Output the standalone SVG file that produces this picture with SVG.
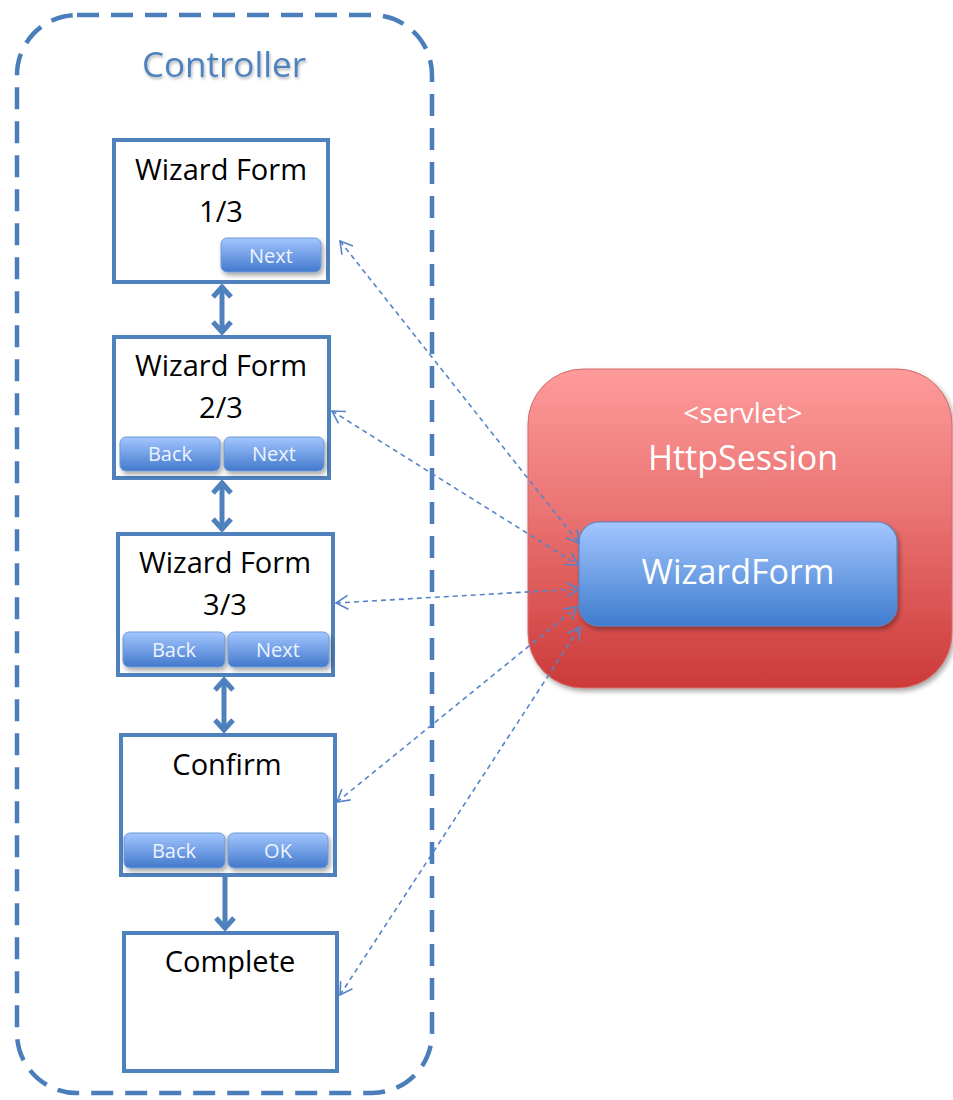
<svg xmlns="http://www.w3.org/2000/svg" width="953" height="1100" viewBox="0 0 953 1100">
<defs>
<linearGradient id="gSession" x1="0" y1="0" x2="0" y2="1">
<stop offset="0" stop-color="#fe9b9b"/>
<stop offset="0.45" stop-color="#ea7373"/>
<stop offset="1" stop-color="#cc3a38"/>
</linearGradient>
<linearGradient id="gForm" x1="0" y1="0" x2="0" y2="1">
<stop offset="0" stop-color="#a3c6ff"/>
<stop offset="1" stop-color="#3f7cce"/>
</linearGradient>
<linearGradient id="gBtn" x1="0" y1="0" x2="0" y2="1">
<stop offset="0" stop-color="#a3c6ff"/>
<stop offset="1" stop-color="#4279cc"/>
</linearGradient>
<filter id="shadow" x="-10%" y="-10%" width="130%" height="130%">
<feGaussianBlur in="SourceAlpha" stdDeviation="2.5"/>
<feOffset dx="2" dy="3"/>
<feComponentTransfer><feFuncA type="linear" slope="0.35"/></feComponentTransfer>
<feMerge><feMergeNode/><feMergeNode in="SourceGraphic"/></feMerge>
</filter>
<filter id="tshadow" x="-10%" y="-20%" width="130%" height="160%">
<feGaussianBlur in="SourceAlpha" stdDeviation="1.5"/>
<feOffset dx="1" dy="2"/>
<feComponentTransfer><feFuncA type="linear" slope="0.3"/></feComponentTransfer>
<feMerge><feMergeNode/><feMergeNode in="SourceGraphic"/></feMerge>
</filter>
<marker id="thin" markerUnits="userSpaceOnUse" markerWidth="16" markerHeight="16" viewBox="-14 -8 16 16" refX="0" refY="0" orient="auto-start-reverse">
<path d="M-12,-7 L0,0 L-12,7" fill="none" stroke="#5585c8" stroke-width="1.6"/>
</marker>
<marker id="thick" markerUnits="userSpaceOnUse" markerWidth="24" markerHeight="24" viewBox="-14 -12 16 24" refX="0" refY="0" orient="auto-start-reverse">
<path d="M-11,-9 L-1,0 L-11,9" fill="none" stroke="#4f81bd" stroke-width="5" stroke-linejoin="miter"/>
</marker>
</defs>
<style>
.box{fill:#ffffff;stroke:#4f81bd;stroke-width:4}
.t{font-family:"Open Sans","Liberation Sans",sans-serif;font-size:29px;fill:#000000;text-anchor:middle}
.btn{fill:url(#gBtn);stroke:#6f9ad6;stroke-width:1}
.bt{font-family:"Open Sans","Liberation Sans",sans-serif;font-size:20px;fill:#eef4ff;text-anchor:middle}
.w{font-family:"Open Sans","Liberation Sans",sans-serif;fill:#ffffff;text-anchor:middle}
.dash{fill:none;stroke:#5585c8;stroke-width:1.6;stroke-dasharray:5 4;marker-start:url(#thin);marker-end:url(#thin)}
.solid{fill:none;stroke:#4f81bd;stroke-width:5}
</style>

<g id="controller">
<rect x="17" y="15" width="415" height="1078" rx="60" ry="60" fill="none" stroke="#4a7ebb" stroke-width="4.5" stroke-dasharray="22 12"/>
<text x="224" y="77" font-family="'Open Sans','Liberation Sans',sans-serif" font-size="35" fill="#4f81bd" text-anchor="middle" filter="url(#tshadow)">Controller</text>
</g>

<g id="session">
<rect x="528" y="369" width="424" height="319" rx="55" ry="55" fill="url(#gSession)" stroke="#d46a6a" stroke-width="1" filter="url(#shadow)"/>
<text class="w" x="743" y="423" font-size="28">&lt;servlet&gt;</text>
<text class="w" x="743" y="470" font-size="34">HttpSession</text>
</g>

<g id="wizardform">
<rect x="579" y="522" width="318" height="104" rx="20" ry="20" fill="url(#gForm)" stroke="#5a86c5" stroke-width="1.2" filter="url(#shadow)"/>
<text class="w" x="738" y="584" font-size="34">WizardForm</text>
</g>

<g id="form1">
<rect class="box" x="114" y="140" width="214" height="142"/>
<text class="t" x="221" y="180">Wizard Form</text>
<text class="t" x="221" y="222">1/3</text>
<rect class="btn" x="221" y="238" width="100" height="34" rx="6" filter="url(#shadow)"/>
<text class="bt" x="271" y="263">Next</text>
</g>

<g id="form2">
<rect class="box" x="114" y="337" width="215" height="141"/>
<text class="t" x="221" y="376">Wizard Form</text>
<text class="t" x="221" y="418">2/3</text>
<rect class="btn" x="120" y="437" width="100" height="34" rx="6" filter="url(#shadow)"/>
<text class="bt" x="170" y="461">Back</text>
<rect class="btn" x="224" y="437" width="100" height="34" rx="6" filter="url(#shadow)"/>
<text class="bt" x="274" y="461">Next</text>
</g>

<g id="form3">
<rect class="box" x="118" y="534" width="215" height="141"/>
<text class="t" x="225" y="573">Wizard Form</text>
<text class="t" x="225" y="615">3/3</text>
<rect class="btn" x="123" y="632" width="102" height="35" rx="6" filter="url(#shadow)"/>
<text class="bt" x="174" y="657">Back</text>
<rect class="btn" x="228" y="632" width="101" height="35" rx="6" filter="url(#shadow)"/>
<text class="bt" x="278" y="657">Next</text>
</g>

<g id="confirm">
<rect class="box" x="121" y="735" width="214" height="140"/>
<text class="t" x="227" y="775">Confirm</text>
<rect class="btn" x="124" y="833" width="101" height="35" rx="6" filter="url(#shadow)"/>
<text class="bt" x="174" y="858">Back</text>
<rect class="btn" x="228" y="833" width="100" height="35" rx="6" filter="url(#shadow)"/>
<text class="bt" x="278" y="858">OK</text>
</g>

<g id="complete">
<rect class="box" x="124" y="933" width="213" height="138"/>
<text class="t" x="230" y="972">Complete</text>
</g>

<g id="connectors">
<line class="solid" x1="222" y1="286" x2="222" y2="333" marker-start="url(#thick)" marker-end="url(#thick)"/>
<line class="solid" x1="222" y1="482" x2="222" y2="530" marker-start="url(#thick)" marker-end="url(#thick)"/>
<line class="solid" x1="224" y1="679" x2="224" y2="731" marker-start="url(#thick)" marker-end="url(#thick)"/>
<line class="solid" x1="225" y1="877" x2="225" y2="929" marker-end="url(#thick)"/>
<line class="dash" x1="340" y1="241" x2="579" y2="543"/>
<line class="dash" x1="332" y1="411" x2="578" y2="565"/>
<line class="dash" x1="336" y1="603" x2="579" y2="589"/>
<line class="dash" x1="337" y1="802" x2="577" y2="607"/>
<line class="dash" x1="340" y1="995" x2="580" y2="627"/>
</g>
</svg>
